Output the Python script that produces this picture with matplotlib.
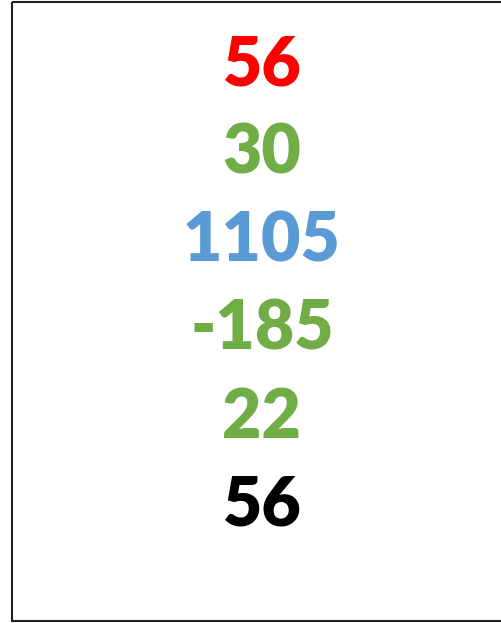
import matplotlib
matplotlib.use("Agg")
import matplotlib.pyplot as plt
from matplotlib.patches import Rectangle

values = ["56", "30", "1105", "-185", "22", "56"]
colors = ["#FF0000", "#70AD47", "#5B9BD5", "#70AD47", "#70AD47", "#000000"]

W, H = 502, 623
fig = plt.figure(figsize=(W / 100, H / 100), dpi=100)
ax = fig.add_axes([0, 0, 1, 1])
ax.set_xlim(0, W)
ax.set_ylim(H, 0)
ax.axis("off")

# frame (open on the right side)
ax.add_patch(Rectangle((12, 2), 520, 619, fill=False, edgecolor="#222222", linewidth=1.5))

y0, step = 66, 88
for i, (v, c) in enumerate(zip(values, colors)):
    ax.text(262, y0 + i * step, v, color=c, fontsize=49, fontweight="heavy",
            family=["Lato", "DejaVu Sans"], ha="center", va="center")

fig.savefig("out.png", dpi=100)
